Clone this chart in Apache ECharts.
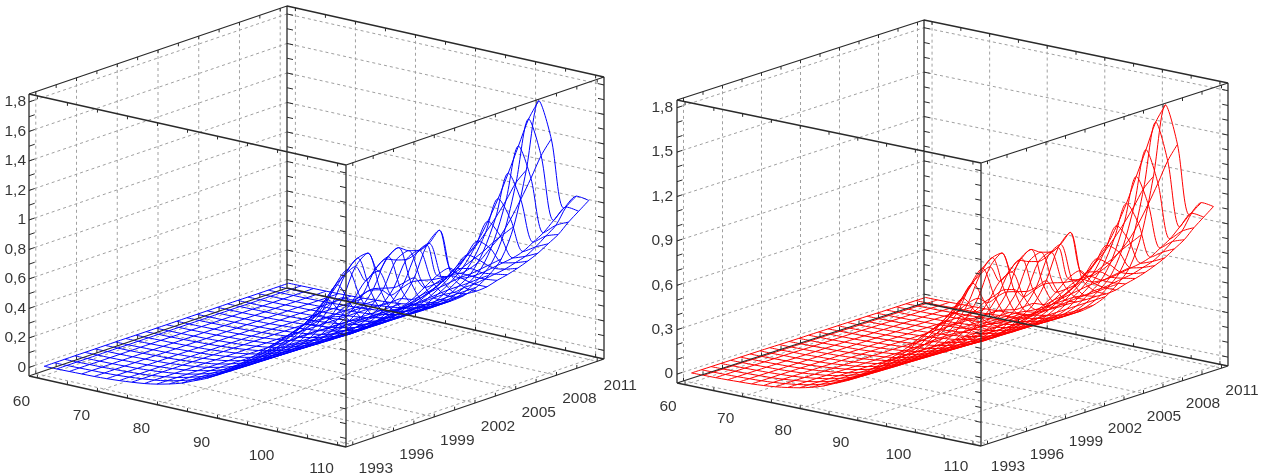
<!DOCTYPE html>
<html><head><meta charset="utf-8">
<style>html,body{margin:0;padding:0;background:#fff}#c{width:1263px;height:473px}</style>
<script src="https://cdn.jsdelivr.net/npm/echarts@6/dist/echarts.min.js"></script>
</head><body><div id="c"></div>
<script>
const ages=[60,62.08,64.17,66.25,68.33,70.42,72.5,74.58,76.67,78.75,80.83,82.92,85,87.08,89.17,91.25,93.33,95.42,97.5,99.58,101.67,103.75,105.83,107.92,110];
const years=[1993,1993.75,1994.5,1995.25,1996,1996.75,1997.5,1998.25,1999,1999.75,2000.5,2001.25,2002,2002.75,2003.5,2004.25,2005,2005.75,2006.5,2007.25,2008,2008.75,2009.5,2010.25,2011];
const ageTicks=[60,70,80,90,100,110];
const yearTicks=[1993,1996,1999,2002,2005,2008,2011];
const zTicksBlue=[0,0.2,0.4,0.6,0.8,1,1.2,1.4,1.6,1.8];
const zLabelsBlue=['0','0,2','0,4','0,6','0,8','1','1,2','1,4','1,6','1,8'];
const zTicksRed=[0,0.3,0.6,0.9,1.2,1.5,1.8];
const zLabelsRed=['0','0,3','0,6','0,9','1,2','1,5','1,8'];
const surfaceBlue=[
[.005,.006,.008,.010,.012,.016,.022,.030,.040,.055,.075,.100,.135,.170,.220,.280,.340,.41,.48,.55,.62,.688,.70,.69,.67],
[.005,.006,.008,.010,.012,.016,.022,.030,.040,.054,.074,.099,.133,.168,.218,.278,.340,.41,.49,.57,.65,.73,.72,.69,.675],
[.005,.006,.008,.009,.012,.016,.021,.029,.039,.053,.073,.098,.131,.166,.215,.275,.340,.41,.50,.59,.70,.81,.75,.69,.68],
[.005,.006,.007,.009,.012,.015,.021,.029,.039,.052,.072,.097,.130,.164,.212,.272,.340,.42,.51,.62,.76,.886,.78,.69,.685],
[.005,.006,.007,.009,.012,.015,.021,.028,.038,.052,.071,.096,.128,.162,.210,.270,.340,.43,.53,.65,.84,.966,.80,.69,.69],
[.005,.006,.007,.009,.012,.015,.020,.028,.038,.051,.070,.095,.126,.161,.207,.267,.338,.43,.54,.68,.89,1.02,.82,.69,.69],
[.005,.006,.007,.009,.012,.015,.020,.028,.037,.050,.070,.095,.125,.160,.205,.265,.335,.43,.54,.69,.92,1.03,.80,.68,.69],
[.005,.005,.007,.009,.011,.015,.020,.027,.036,.049,.068,.093,.123,.158,.203,.262,.330,.42,.52,.65,.80,.884,.74,.67,.685],
[.005,.005,.007,.009,.011,.015,.020,.027,.036,.049,.067,.092,.122,.156,.201,.258,.328,.42,.53,.67,.86,.958,.76,.67,.68],
[.004,.005,.007,.008,.011,.014,.019,.026,.035,.048,.066,.090,.120,.154,.198,.255,.325,.42,.53,.68,.90,.996,.78,.67,.68],
[.004,.005,.006,.008,.011,.014,.019,.026,.035,.047,.065,.088,.118,.152,.195,.252,.320,.41,.52,.66,.87,.952,.77,.67,.675],
[.004,.005,.006,.008,.010,.014,.019,.025,.034,.046,.064,.087,.116,.150,.192,.248,.315,.40,.50,.64,.85,.931,.75,.67,.67],
[.004,.005,.006,.008,.010,.014,.018,.025,.033,.045,.062,.085,.113,.148,.190,.245,.310,.40,.50,.65,.87,.955,.74,.66,.67],
[.004,.005,.006,.008,.010,.013,.018,.024,.033,.044,.061,.083,.111,.145,.187,.241,.310,.40,.50,.66,.90,1.02,.73,.67,.665],
[.004,.005,.006,.008,.010,.013,.018,.024,.032,.043,.060,.081,.108,.141,.190,.250,.320,.39,.47,.57,.67,.74,.69,.67,.67],
[.004,.005,.006,.007,.010,.013,.017,.023,.031,.042,.058,.079,.106,.140,.190,.255,.330,.40,.48,.57,.64,.68,.68,.68,.69],
[.004,.005,.006,.007,.009,.012,.017,.023,.031,.041,.057,.078,.104,.140,.190,.255,.335,.41,.49,.58,.67,.69,.68,.69,.705],
[.004,.005,.006,.007,.009,.012,.016,.022,.030,.041,.056,.076,.102,.138,.190,.260,.340,.43,.52,.63,.74,.72,.69,.70,.725],
[.004,.005,.006,.007,.009,.012,.016,.022,.030,.040,.055,.075,.100,.138,.190,.260,.345,.44,.55,.68,.81,.78,.70,.72,.75],
[.004,.004,.005,.007,.009,.012,.016,.021,.029,.039,.054,.073,.098,.136,.190,.260,.350,.45,.57,.73,.92,.84,.71,.74,.78],
[.003,.004,.005,.007,.009,.011,.016,.021,.028,.038,.053,.072,.096,.134,.190,.260,.355,.46,.60,.80,1.05,.93,.73,.78,.82],
[.003,.004,.005,.006,.008,.011,.015,.021,.028,.037,.052,.071,.094,.132,.190,.260,.355,.46,.63,.88,1.20,1.04,.77,.83,.86],
[.003,.004,.005,.006,.008,.011,.015,.020,.027,.036,.051,.070,.092,.130,.185,.260,.355,.47,.67,.97,1.36,1.16,.81,.88,.92],
[.003,.004,.005,.006,.008,.011,.015,.020,.027,.036,.050,.069,.091,.130,.185,.260,.360,.48,.70,1.07,1.52,1.29,.87,.98,.97],
[.003,.004,.005,.006,.008,.011,.015,.020,.026,.035,.050,.068,.090,.130,.185,.260,.360,.49,.73,1.13,1.62,1.38,.93,1.03,1.02]
];
const surfaceRed=[
[.005,.006,.007,.009,.012,.015,.021,.029,.041,.056,.076,.102,.137,.172,.222,.283,.343,.41,.48,.56,.63,.69,.70,.69,.67],
[.005,.006,.007,.009,.012,.015,.021,.029,.040,.055,.075,.100,.135,.170,.220,.280,.342,.41,.49,.58,.66,.74,.72,.69,.675],
[.005,.006,.007,.009,.012,.015,.021,.029,.039,.054,.074,.099,.133,.168,.217,.277,.342,.41,.50,.60,.71,.82,.75,.69,.68],
[.005,.006,.007,.009,.011,.015,.020,.028,.039,.053,.073,.098,.131,.166,.214,.274,.342,.42,.51,.63,.77,.90,.79,.69,.685],
[.005,.006,.007,.009,.011,.015,.020,.028,.038,.052,.072,.097,.129,.164,.212,.272,.342,.43,.53,.66,.85,.98,.81,.69,.69],
[.005,.006,.007,.009,.011,.015,.020,.028,.038,.051,.071,.096,.127,.162,.209,.269,.340,.43,.54,.69,.90,1.03,.83,.69,.69],
[.005,.005,.007,.009,.011,.014,.020,.027,.037,.051,.070,.095,.126,.161,.207,.267,.337,.43,.55,.70,.93,1.04,.81,.68,.69],
[.005,.005,.007,.008,.011,.014,.019,.027,.036,.050,.069,.094,.124,.159,.205,.263,.332,.42,.52,.65,.81,.89,.74,.67,.685],
[.005,.005,.007,.008,.011,.014,.019,.026,.036,.049,.068,.092,.123,.157,.202,.260,.330,.42,.53,.67,.86,.96,.76,.67,.68],
[.004,.005,.006,.008,.011,.014,.019,.026,.035,.048,.067,.091,.121,.155,.199,.257,.326,.42,.53,.68,.91,1.00,.78,.67,.68],
[.004,.005,.006,.008,.010,.014,.019,.026,.034,.047,.065,.089,.119,.153,.196,.253,.322,.41,.52,.66,.88,.96,.77,.67,.675],
[.004,.005,.006,.008,.010,.013,.018,.025,.034,.046,.064,.087,.117,.151,.193,.249,.316,.40,.50,.64,.86,.94,.75,.67,.67],
[.004,.005,.006,.008,.010,.013,.018,.025,.033,.045,.063,.085,.114,.149,.191,.246,.312,.40,.50,.65,.88,.97,.74,.66,.67],
[.004,.005,.006,.007,.010,.013,.018,.024,.033,.044,.061,.083,.112,.146,.188,.242,.312,.40,.50,.67,.91,1.03,.73,.67,.665],
[.004,.005,.006,.007,.010,.013,.017,.024,.032,.043,.060,.081,.109,.142,.191,.251,.321,.39,.47,.57,.68,.75,.69,.67,.67],
[.004,.004,.006,.007,.009,.012,.017,.023,.031,.042,.059,.080,.107,.141,.191,.256,.331,.40,.48,.57,.65,.69,.68,.68,.69],
[.004,.004,.005,.007,.009,.012,.017,.023,.031,.041,.057,.078,.105,.141,.191,.256,.336,.41,.49,.58,.68,.70,.68,.69,.705],
[.004,.004,.005,.007,.009,.012,.016,.022,.030,.041,.056,.077,.103,.139,.191,.261,.341,.43,.52,.63,.75,.73,.69,.70,.725],
[.004,.004,.005,.007,.009,.012,.016,.022,.030,.040,.055,.075,.101,.139,.191,.261,.346,.44,.55,.68,.82,.79,.70,.72,.75],
[.003,.004,.005,.006,.009,.011,.016,.021,.029,.039,.054,.074,.099,.137,.191,.261,.351,.45,.57,.74,.93,.85,.71,.74,.78],
[.003,.004,.005,.006,.008,.011,.015,.021,.028,.038,.053,.072,.097,.135,.191,.261,.356,.46,.60,.81,1.06,.94,.73,.78,.82],
[.003,.004,.005,.006,.008,.011,.015,.020,.028,.037,.052,.071,.095,.133,.191,.261,.356,.46,.63,.89,1.22,1.05,.77,.83,.86],
[.003,.004,.005,.006,.008,.011,.015,.020,.027,.036,.051,.070,.093,.131,.186,.261,.356,.47,.67,.98,1.38,1.17,.81,.88,.92],
[.003,.003,.004,.006,.008,.010,.014,.020,.027,.036,.050,.069,.092,.131,.186,.261,.361,.48,.70,1.08,1.545,1.30,.87,.98,.97],
[.003,.003,.004,.006,.008,.010,.014,.019,.026,.035,.050,.068,.091,.131,.186,.261,.361,.49,.73,1.14,1.64,1.39,.93,1.03,1.02]
];

const blueBox={ox:29,oy:376,ax:317,ay:71,bx:258,by:-88,h:282,aMin:58.6,aMax:111.4,yMin:1992.5,yMax:2011.5,zMin:-0.058,zMax:1.854,
  color:'#0000ff',ageOff:[-16,24],yearOff:[23,24],zLabelX:26};
const redBox={ox:677,oy:383,ax:304,ay:63,bx:247,by:-80,h:283,aMin:58.6,aMax:111.4,yMin:1992.5,yMax:2011.5,zMin:-0.06,zMax:1.852,
  color:'#ff0000',ageOff:[-17,22],yearOff:[20.5,23],zLabelX:673};

function projector(b){
  return (a,y,z)=>{
    const t=(a-b.aMin)/(b.aMax-b.aMin),u=(y-b.yMin)/(b.yMax-b.yMin),v=(z-b.zMin)/(b.zMax-b.zMin);
    return [b.ox+t*b.ax+u*b.bx,b.oy+t*b.ay+u*b.by-v*b.h];
  };
}
const GAP=[null,null];
function pathSeries(name,pts,color,width,dash,z,smooth){
  return {type:'line',name,data:pts,coordinateSystem:'cartesian2d',showSymbol:false,symbol:'none',silent:true,connectNulls:false,
    smooth:smooth||false,clip:false,z,animation:false,lineStyle:{color,width,type:dash||'solid',opacity:1}};
}
function steps(from,to,step){const r=[];for(let k=0;from+k*step<=to+1e-6;k++)r.push(from+k*step);return r;}
function panel(tag,b,surface,zTicks,zLabels,zMinor){
  const P=projector(b),out=[];
  const g=[];
  zTicks.forEach(z=>g.push(P(b.aMin,b.yMin,z),P(b.aMin,b.yMax,z),P(b.aMax,b.yMax,z),GAP));
  yearTicks.forEach(y=>g.push(P(b.aMin,y,b.zMax),P(b.aMin,y,b.zMin),P(b.aMax,y,b.zMin),GAP));
  ageTicks.forEach(a=>g.push(P(a,b.yMax,b.zMax),P(a,b.yMax,b.zMin),P(a,b.yMin,b.zMin),GAP));
  out.push(pathSeries(tag+' grid',g,'#a0a0a0',1,[3,3],1));
  years.forEach((y,i)=>out.push(pathSeries(tag+' year '+y,ages.map((a,j)=>P(a,y,surface[i][j])),b.color,1,null,3,0.3)));
  ages.forEach((a,j)=>out.push(pathSeries(tag+' age '+a,years.map((y,i)=>P(a,y,surface[i][j])),b.color,1,null,3,0.3)));
  const e=[];
  const c=(i,k,l)=>P(i?b.aMax:b.aMin,k?b.yMax:b.yMin,l?b.zMax:b.zMin);
  [[0,0],[1,0],[0,1],[1,1]].forEach(([i,k])=>e.push(c(i,k,0),c(i,k,1),GAP));
  [0,1].forEach(l=>{e.push(c(0,0,l),c(1,0,l),c(1,1,l),c(0,1,l),c(0,0,l),GAP);});
  out.push(pathSeries(tag+' box',e,'#2a2a2a',1.3,null,5));
  const t=[];
  steps(0,1.8,zMinor).forEach(z=>{
    t.push(P(b.aMin,b.yMin,z),P(b.aMin,b.yMin+0.42,z),GAP);
    t.push(P(b.aMin,b.yMax,z),P(b.aMin+1,b.yMax,z),GAP);
    t.push(P(b.aMax,b.yMin,z),P(b.aMax-1,b.yMin,z),GAP);
    t.push(P(b.aMax,b.yMax,z),P(b.aMax-1,b.yMax,z),GAP);
  });
  steps(60,110,5).forEach(a=>[[b.yMin,b.zMin],[b.yMax,b.zMin],[b.yMin,b.zMax],[b.yMax,b.zMax]].forEach(([y,z])=>{
    t.push(P(a,y,z),P(a,y,z+(z===b.zMin?0.022:-0.022)),GAP);
  }));
  steps(1993,2011,1.5).forEach(y=>[[b.aMin,b.zMin],[b.aMax,b.zMin],[b.aMin,b.zMax],[b.aMax,b.zMax]].forEach(([a,z])=>{
    t.push(P(a,y,z),P(a,y,z+(z===b.zMin?0.022:-0.022)),GAP);
  }));
  out.push(pathSeries(tag+' ticks',t,'#2a2a2a',1,null,5));
  const labels=[];
  zTicks.forEach((z,i)=>{const p=P(b.aMin,b.yMin,z);labels.push([b.zLabelX,p[1],zLabels[i],'right']);});
  ageTicks.forEach(a=>{const p=P(a,b.yMin,b.zMin);labels.push([p[0]+b.ageOff[0],p[1]+b.ageOff[1],String(a),'center']);});
  yearTicks.forEach(y=>{const p=P(b.aMax,y,b.zMin);labels.push([p[0]+b.yearOff[0],p[1]+b.yearOff[1],String(y),'center']);});
  out.push({type:'scatter',name:tag+' labels',symbolSize:1,silent:true,clip:false,z:6,animation:false,itemStyle:{color:'transparent'},
    data:labels.map(l=>({value:[l[0],l[1]],text:l[2],label:{align:l[3]}})),
    label:{show:true,position:'inside',distance:0,formatter:p=>p.data.text,fontFamily:'Liberation Sans',fontSize:15.5,color:'#000',verticalAlign:'middle'}});
  return out;
}
const chart=echarts.init(document.getElementById('c'),null,{renderer:'canvas'});
chart.setOption({
  animation:false,backgroundColor:'#fff',
  grid:{left:0,right:0,top:0,bottom:0,containLabel:false},
  xAxis:{type:'value',min:0,max:1263,show:false},
  yAxis:{type:'value',min:0,max:473,inverse:true,show:false},
  tooltip:{show:false},
  series:[...panel('left',blueBox,surfaceBlue,zTicksBlue,zLabelsBlue,0.1),...panel('right',redBox,surfaceRed,zTicksRed,zLabelsRed,0.1)]
});
</script></body></html>
